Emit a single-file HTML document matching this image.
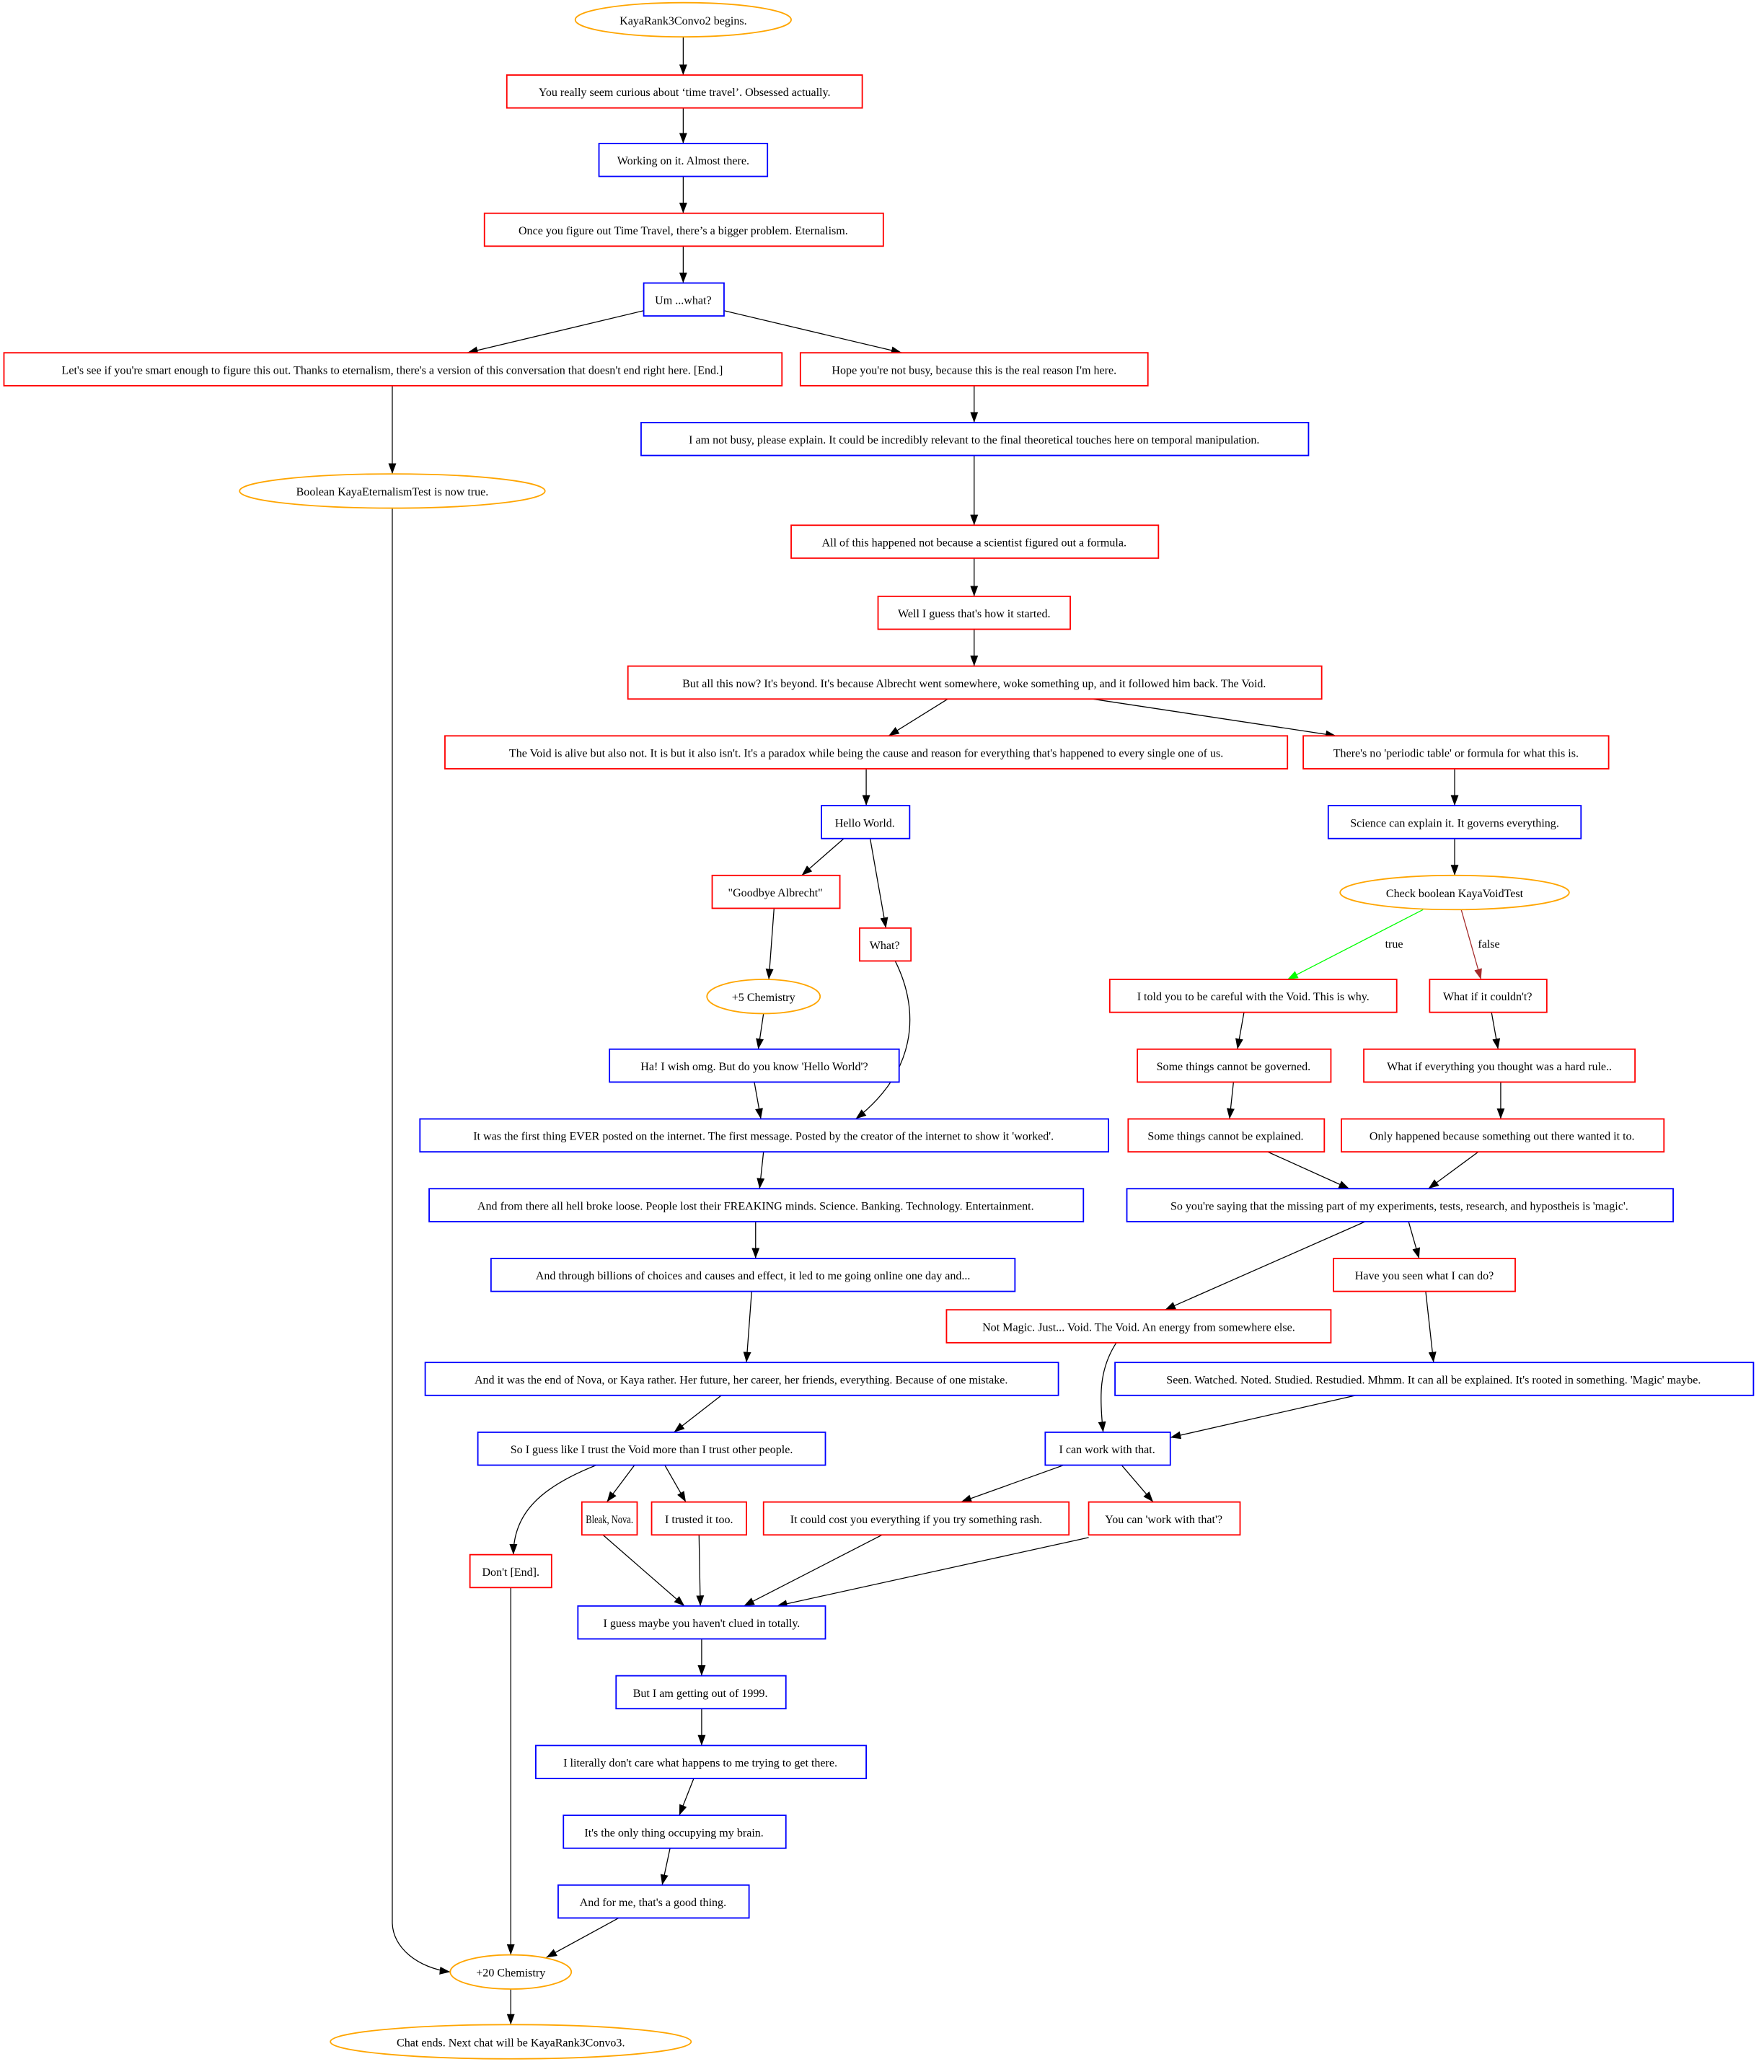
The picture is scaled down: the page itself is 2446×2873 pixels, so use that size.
<!DOCTYPE html>
<html><head><meta charset="utf-8"><style>html,body{margin:0;padding:0;background:#fff}svg{display:block}</style></head><body>
<svg width="2446" height="2873" viewBox="0 0 1340 1574" preserveAspectRatio="none" xmlns="http://www.w3.org/2000/svg" font-family="'Liberation Serif',serif" font-size="8.8">
<defs>
<marker id="a" markerWidth="8" markerHeight="6" refX="8" refY="3" orient="auto" markerUnits="userSpaceOnUse"><path d="M0,0 L8,3 L0,6z" fill="#000"/></marker>
<marker id="g" markerWidth="8" markerHeight="6" refX="8" refY="3" orient="auto" markerUnits="userSpaceOnUse"><path d="M0,0 L8,3 L0,6z" fill="#0f0"/></marker>
<marker id="b" markerWidth="8" markerHeight="6" refX="8" refY="3" orient="auto" markerUnits="userSpaceOnUse"><path d="M0,0 L8,3 L0,6z" fill="#a52a2a"/></marker>
</defs>
<g stroke="#000" stroke-width="0.7" fill="none" marker-end="url(#a)">
<line x1="519" y1="28" x2="519" y2="57"/>
<line x1="519" y1="82" x2="519" y2="109"/>
<line x1="519" y1="134" x2="519" y2="162"/>
<line x1="519" y1="187" x2="519" y2="215"/>
<line x1="489" y1="236" x2="355" y2="268"/>
<line x1="550" y1="236" x2="685" y2="268"/>
<line x1="298" y1="293" x2="298" y2="360"/>
<line x1="740" y1="293" x2="740" y2="321"/>
<line x1="740" y1="346" x2="740" y2="399"/>
<line x1="740" y1="424" x2="740" y2="453"/>
<line x1="740" y1="478" x2="740" y2="506"/>
<line x1="720" y1="531" x2="675" y2="559"/>
<line x1="830" y1="531" x2="1015" y2="559"/>
<line x1="658" y1="584" x2="658" y2="612"/>
<line x1="1105" y1="584" x2="1105" y2="612"/>
<line x1="641" y1="637" x2="609" y2="665"/>
<line x1="661" y1="637" x2="673" y2="705"/>
<line x1="588" y1="690" x2="584" y2="744"/>
<line x1="1105" y1="637" x2="1105" y2="665"/>
<path d="M680,730 C700,770 695,815 650,850"/>
<line x1="580" y1="770" x2="576" y2="797"/>
<line x1="945" y1="769" x2="940" y2="797"/>
<line x1="1133" y1="769" x2="1138" y2="797"/>
<line x1="573" y1="822" x2="578" y2="850"/>
<line x1="937" y1="822" x2="934" y2="850"/>
<line x1="1140" y1="822" x2="1140" y2="850"/>
<line x1="580" y1="875" x2="577" y2="903"/>
<line x1="963" y1="875" x2="1025" y2="903"/>
<line x1="1123" y1="875" x2="1085" y2="903"/>
<line x1="574" y1="928" x2="574" y2="956"/>
<line x1="1070" y1="928" x2="1078" y2="956"/>
<line x1="1037" y1="928" x2="885" y2="995"/>
<line x1="571" y1="981" x2="567" y2="1035"/>
<line x1="1083" y1="981" x2="1089" y2="1035"/>
<path d="M848,1020 C835,1040 835,1060 838,1088"/>
<line x1="548" y1="1060" x2="512" y2="1088"/>
<line x1="1030" y1="1060" x2="889" y2="1092"/>
<line x1="482" y1="1113" x2="461" y2="1141"/>
<line x1="505" y1="1113" x2="521" y2="1141"/>
<path d="M453,1113 C410,1130 390,1150 390,1181"/>
<line x1="808" y1="1113" x2="730" y2="1141"/>
<line x1="852" y1="1113" x2="876" y2="1141"/>
<line x1="458" y1="1166" x2="520" y2="1220"/>
<line x1="531" y1="1166" x2="532" y2="1220"/>
<line x1="670" y1="1166" x2="565" y2="1220"/>
<line x1="827" y1="1168" x2="590" y2="1220"/>
<line x1="388" y1="1206" x2="388" y2="1485"/>
<line x1="533" y1="1245" x2="533" y2="1273"/>
<line x1="533" y1="1298" x2="533" y2="1326"/>
<line x1="527" y1="1351" x2="516" y2="1379"/>
<line x1="509" y1="1404" x2="503" y2="1432"/>
<line x1="470" y1="1457" x2="415" y2="1487"/>
<path d="M298,386 L298,1460 C298,1480 318,1495 342,1498"/>
<line x1="388" y1="1511" x2="388" y2="1538"/>
</g>
<line x1="1081" y1="691" x2="978" y2="744" stroke="#0f0" stroke-width="0.7" marker-end="url(#g)"/>
<line x1="1110" y1="691" x2="1125" y2="744" stroke="#a52a2a" stroke-width="0.7" marker-end="url(#b)"/>
<text x="1059" y="720" text-anchor="middle">true</text>
<text x="1131" y="720" text-anchor="middle">false</text>
<g fill="#fff" stroke="orange" stroke-width="1">
<ellipse cx="519" cy="15" rx="82" ry="13"/>
<ellipse cx="298" cy="373" rx="116" ry="13"/>
<ellipse cx="1105" cy="678" rx="87" ry="13"/>
<ellipse cx="580" cy="757" rx="43" ry="13"/>
<ellipse cx="388" cy="1498" rx="46" ry="13"/>
<ellipse cx="388" cy="1551" rx="137" ry="13"/>
</g>
<g fill="#fff" stroke="red" stroke-width="1">
<rect x="385" y="57" width="270" height="25"/>
<rect x="368" y="162" width="303" height="25"/>
<rect x="3" y="268" width="591" height="25"/>
<rect x="608" y="268" width="264" height="25"/>
<rect x="601" y="399" width="279" height="25"/>
<rect x="667" y="453" width="146" height="25"/>
<rect x="477" y="506" width="527" height="25"/>
<rect x="338" y="559" width="640" height="25"/>
<rect x="990" y="559" width="232" height="25"/>
<rect x="541" y="665" width="97" height="25"/>
<rect x="653" y="705" width="39" height="25"/>
<rect x="843" y="744" width="218" height="25"/>
<rect x="1086" y="744" width="89" height="25"/>
<rect x="864" y="797" width="147" height="25"/>
<rect x="1036" y="797" width="206" height="25"/>
<rect x="857" y="850" width="149" height="25"/>
<rect x="1019" y="850" width="245" height="25"/>
<rect x="1013" y="956" width="138" height="25"/>
<rect x="719" y="995" width="292" height="25"/>
<rect x="442" y="1141" width="42" height="25"/>
<rect x="495" y="1141" width="72" height="25"/>
<rect x="580" y="1141" width="232" height="25"/>
<rect x="827" y="1141" width="115" height="25"/>
<rect x="357" y="1181" width="62" height="25"/>
</g>
<g fill="#fff" stroke="blue" stroke-width="1">
<rect x="455" y="109" width="128" height="25"/>
<rect x="489" y="215" width="61" height="25"/>
<rect x="487" y="321" width="507" height="25"/>
<rect x="624" y="612" width="67" height="25"/>
<rect x="1009" y="612" width="192" height="25"/>
<rect x="463" y="797" width="220" height="25"/>
<rect x="319" y="850" width="523" height="25"/>
<rect x="326" y="903" width="497" height="25"/>
<rect x="856" y="903" width="415" height="25"/>
<rect x="373" y="956" width="398" height="25"/>
<rect x="323" y="1035" width="481" height="25"/>
<rect x="847" y="1035" width="485" height="25"/>
<rect x="363" y="1088" width="264" height="25"/>
<rect x="794" y="1088" width="95" height="25"/>
<rect x="439" y="1220" width="188" height="25"/>
<rect x="468" y="1273" width="129" height="25"/>
<rect x="407" y="1326" width="251" height="25"/>
<rect x="428" y="1379" width="169" height="25"/>
<rect x="424" y="1432" width="145" height="25"/>
</g>
<g text-anchor="middle" fill="#000">
<text x="519" y="18.5">KayaRank3Convo2 begins.</text>
<text x="520" y="73">You really seem curious about ‘time travel’. Obsessed actually.</text>
<text x="519" y="125">Working on it. Almost there.</text>
<text x="519" y="178">Once you figure out Time Travel, there’s a bigger problem. Eternalism.</text>
<text x="519" y="231">Um ...what?</text>
<text x="298" y="284">Let's see if you're smart enough to figure this out. Thanks to eternalism, there's a version of this conversation that doesn't end right here. [End.]</text>
<text x="740" y="284">Hope you're not busy, because this is the real reason I'm here.</text>
<text x="298" y="376.5">Boolean KayaEternalismTest is now true.</text>
<text x="740" y="337">I am not busy, please explain. It could be incredibly relevant to the final theoretical touches here on temporal manipulation.</text>
<text x="740" y="415">All of this happened not because a scientist figured out a formula.</text>
<text x="740" y="469">Well I guess that's how it started.</text>
<text x="740" y="522">But all this now? It's beyond. It's because Albrecht went somewhere, woke something up, and it followed him back. The Void.</text>
<text x="658" y="575">The Void is alive but also not. It is but it also isn't. It's a paradox while being the cause and reason for everything that's happened to every single one of us.</text>
<text x="1106" y="575">There's no 'periodic table' or formula for what this is.</text>
<text x="657" y="628">Hello World.</text>
<text x="1105" y="628">Science can explain it. It governs everything.</text>
<text x="589" y="681">"Goodbye Albrecht"</text>
<text x="1105" y="681.5">Check boolean KayaVoidTest</text>
<text x="672" y="721">What?</text>
<text x="580" y="760.5">+5 Chemistry</text>
<text x="952" y="760">I told you to be careful with the Void. This is why.</text>
<text x="1130" y="760">What if it couldn't?</text>
<text x="573" y="813">Ha! I wish omg. But do you know 'Hello World'?</text>
<text x="937" y="813">Some things cannot be governed.</text>
<text x="1139" y="813">What if everything you thought was a hard rule..</text>
<text x="580" y="866">It was the first thing EVER posted on the internet. The first message. Posted by the creator of the internet to show it 'worked'.</text>
<text x="931" y="866">Some things cannot be explained.</text>
<text x="1141" y="866">Only happened because something out there wanted it to.</text>
<text x="574" y="919">And from there all hell broke loose. People lost their FREAKING minds. Science. Banking. Technology. Entertainment.</text>
<text x="1063" y="919">So you're saying that the missing part of my experiments, tests, research, and hypostheis is 'magic'.</text>
<text x="572" y="972">And through billions of choices and causes and effect, it led to me going online one day and...</text>
<text x="1082" y="972">Have you seen what I can do?</text>
<text x="865" y="1011">Not Magic. Just... Void. The Void. An energy from somewhere else.</text>
<text x="563" y="1051">And it was the end of Nova, or Kaya rather. Her future, her career, her friends, everything. Because of one mistake.</text>
<text x="1089" y="1051">Seen. Watched. Noted. Studied. Restudied. Mhmm. It can all be explained. It's rooted in something. 'Magic' maybe.</text>
<text x="495" y="1104">So I guess like I trust the Void more than I trust other people.</text>
<text x="841" y="1104">I can work with that.</text>
<text x="463" y="1157" textLength="36" lengthAdjust="spacingAndGlyphs">Bleak, Nova.</text>
<text x="531" y="1157">I trusted it too.</text>
<text x="696" y="1157">It could cost you everything if you try something rash.</text>
<text x="884" y="1157">You can 'work with that'?</text>
<text x="388" y="1197">Don't [End].</text>
<text x="533" y="1236">I guess maybe you haven't clued in totally.</text>
<text x="532" y="1289">But I am getting out of 1999.</text>
<text x="532" y="1342">I literally don't care what happens to me trying to get there.</text>
<text x="512" y="1395">It's the only thing occupying my brain.</text>
<text x="496" y="1448">And for me, that's a good thing.</text>
<text x="388" y="1501.5">+20 Chemistry</text>
<text x="388" y="1554.5">Chat ends. Next chat will be KayaRank3Convo3.</text>
</g>
</svg>
</body></html>
